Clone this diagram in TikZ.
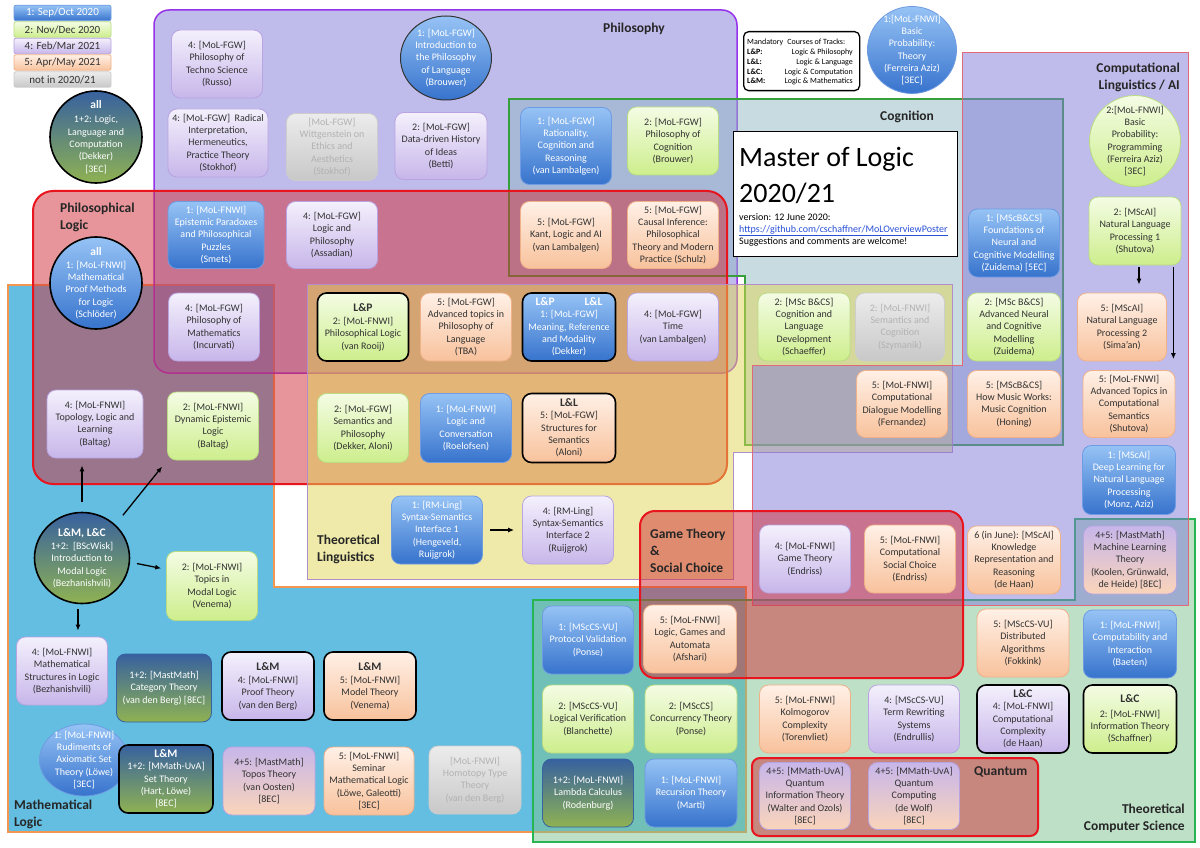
\documentclass[tikz,border=0pt]{standalone}
\usepackage{fontspec}
\setmainfont{Carlito}
\usepackage{xcolor}
\usepackage{tikz}
\usetikzlibrary{arrows.meta,shapes.geometric}

% period colours (top / bottom / border)
\definecolor{bluT}{RGB}{150,195,245}
\definecolor{bluB}{RGB}{55,115,205}
\definecolor{bluD}{RGB}{110,155,225}
\definecolor{grnT}{RGB}{244,252,228}
\definecolor{grnB}{RGB}{205,238,140}
\definecolor{grnD}{RGB}{185,220,130}
\definecolor{prpT}{RGB}{244,240,252}
\definecolor{prpB}{RGB}{199,182,234}
\definecolor{prpD}{RGB}{184,164,224}
\definecolor{orgT}{RGB}{255,240,230}
\definecolor{orgB}{RGB}{248,194,156}
\definecolor{orgD}{RGB}{240,176,136}
\definecolor{gryT}{RGB}{236,236,236}
\definecolor{gryB}{RGB}{200,200,200}
\definecolor{gryD}{RGB}{205,205,205}
\definecolor{gryX}{RGB}{178,178,178}
\definecolor{mixT}{RGB}{55,97,159}
\definecolor{mixB}{RGB}{143,178,82}
\definecolor{txtC}{RGB}{50,50,50}
% area colours
\definecolor{mlF}{RGB}{100,190,225}
\definecolor{mlD}{RGB}{243,150,80}
\definecolor{phF}{RGB}{129,121,217}
\definecolor{phD}{RGB}{150,50,235}
\definecolor{cgF}{RGB}{145,185,195}
\definecolor{cgD}{RGB}{55,160,60}
\definecolor{tlF}{RGB}{225,215,85}
\definecolor{tlD}{RGB}{180,140,200}
\definecolor{plF}{RGB}{209,45,55}
\definecolor{plD}{RGB}{232,20,30}
\definecolor{tcF}{RGB}{125,195,145}
\definecolor{tcD}{RGB}{40,180,80}
\definecolor{clD}{RGB}{224,106,120}
\definecolor{urlC}{RGB}{40,80,215}

\newcommand\crsfont{\fontsize{10}{12.3}\selectfont}
\newcommand\trkfont{\fontsize{11.5}{13}\selectfont\bfseries}
\newcommand\ttlfont{\fontsize{13.5}{17}\selectfont\bfseries}
\newcommand\lgdfont{\fontsize{11}{13}\selectfont}
\newcommand\mandfont{\fontsize{8}{9.7}\selectfont}

\tikzset{
  crs/.style={rounded corners=9pt, minimum width=91pt, minimum height=68pt,
    align=center, inner sep=1pt, font=\crsfont, text=txtC, line width=0.8pt},
  pone/.style={crs, top color=bluT, bottom color=bluB, draw=bluD, text=white},
  ptwo/.style={crs, top color=grnT, bottom color=grnB, draw=grnD},
  pfour/.style={crs, top color=prpT, bottom color=prpB, draw=prpD},
  pfive/.style={crs, top color=orgT, bottom color=orgB, draw=orgD},
  pnone/.style={crs, top color=gryT, bottom color=gryB, draw=gryD, text=gryX},
  ponetwo/.style={crs, top color=mixT, bottom color=mixB, draw=mixT, text=white},
  pfourfive/.style={crs, top color=prpB, bottom color=orgB!70, draw=prpD},
  trk/.style={draw=black, line width=1.6pt},
  rnd/.style={circle, inner sep=-14pt, minimum size=91pt},
  oval/.style={ellipse, inner sep=-14pt},
  lgd/.style={rounded corners=2pt, minimum width=97pt, minimum height=15.5pt,
    inner sep=0pt, font=\lgdfont},
  ttl/.style={font=\ttlfont, align=left, inner sep=0pt, text=black!85},
  mnd/.style={font=\mandfont, inner sep=0pt, text=black},
  arr/.style={-{Latex[length=6pt,width=5pt]}, line width=1.3pt, black},
}

\begin{document}
\begin{tikzpicture}[x=1pt,y=-1pt]
\fill[white] (0,0) rectangle (1200,848);
\useasboundingbox (0,0) rectangle (1200,848);

% areas
\path[fill=mlF, draw=mlD, line width=2pt] (8,285) -- (274,285) -- (274,587) --
  (746,587) -- (746,832) -- (8,832) -- cycle;
\path[fill=phF, fill opacity=0.5, draw=phD, line width=1.5pt, rounded corners=15pt]
  (154,10) rectangle (737,373);
\path[fill=cgF, fill opacity=0.5, draw=cgD, line width=1.5pt] (509,99) -- (1063,99) --
  (1063,445) -- (745,445) -- (745,276) -- (509,276) -- cycle;
\path[fill=plF, fill opacity=0.5, draw=plD, line width=2pt, rounded corners=20pt]
  (33,191) rectangle (727,484);
\path[fill=tlF, fill opacity=0.5, draw=tlD, line width=1pt] (307,284) -- (952,284) --
  (952,452) -- (733,452) -- (733,579) -- (307,579) -- cycle;
\path[fill=tcF, fill opacity=0.5, draw=tcD, line width=2pt] (533,600) -- (1075,600) --
  (1075,519) -- (1195,519) -- (1195,842) -- (533,842) -- cycle;
\path[fill=phF, fill opacity=0.5, draw=clD, line width=1pt] (962,53) -- (1188,53) --
  (1188,605) -- (752,605) -- (752,365) -- (962,365) -- cycle;
\path[fill=plF, fill opacity=0.5, draw=plD, line width=2pt, rounded corners=15pt]
  (640,511) rectangle (963,678);
\path[fill=plF, fill opacity=0.5, draw=plD, line width=2pt, rounded corners=8pt]
  (752,758) rectangle (1038,836);

% area titles
\node[ttl, anchor=west] (tphil) at (603,29) {Philosophy};
\node[ttl, anchor=west] (tplog) at (60,217) {Philosophical\\Logic};
\node[ttl, anchor=west] (tcog) at (880,117) {Cognition};
\node[ttl, anchor=east, align=right] (tcl) at (1180,77) {Computational\\Linguistics / AI};
\node[ttl, anchor=west] (ttl) at (317,549) {Theoretical\\Linguistics};
\node[ttl, anchor=west] (tgt) at (650,551) {Game Theory\\\&\\Social Choice};
\node[ttl, anchor=west] (tml) at (14,814) {Mathematical\\Logic};
\node[ttl, anchor=west] (tqu) at (974,772) {Quantum};
\node[ttl, anchor=east, align=right] (ttcs) at (1185,818) {Theoretical\\Computer Science};

% legend
\node[pone, lgd] (lgone) at (62.5,13) {1: Sep/Oct 2020};
\node[ptwo, lgd] (lgtwo) at (62.5,29.5) {2: Nov/Dec 2020};
\node[pfour, lgd] (lgfour) at (62.5,46) {4: Feb/Mar 2021};
\node[pfive, lgd] (lgfive) at (62.5,62.5) {5: Apr/May 2021};
\node[pnone, lgd, text=txtC] (lgnone) at (62.5,79.5) {not in 2020/21};

% mandatory tracks
\node[draw=black, line width=1.3pt, fill=white, rounded corners=5pt, minimum width=116pt,
  minimum height=59pt, inner sep=0pt, anchor=north west] (mand) at (743,31) {};
\node[mnd, anchor=base west] (mandt) at (747,45) {Mandatory\enspace Courses of Tracks:};
\foreach \tname/\tdesc [count=\i] in {L\&P/Logic \& Philosophy, L\&L/Logic \& Language,
    L\&C/Logic \& Computation, L\&M/Logic \& Mathematics}{
  \node[mnd, font=\mandfont\bfseries, anchor=base west] (mk\i) at (747,{45+9.7*\i}) {\tname:};
  \node[mnd, anchor=base east] (md\i) at (853,{45+9.7*\i}) {\tdesc};
}

% title box
\node[draw=black, line width=1.3pt, fill=white, minimum width=224pt, minimum height=125pt,
  inner sep=0pt, anchor=north west] (molbox) at (733,131) {};
\node[inner sep=0pt, anchor=base west, font=\fontsize{28}{34}\selectfont] (mola) at (739,167) {Master of Logic};
\node[inner sep=0pt, anchor=base west, font=\fontsize{28}{34}\selectfont] (molb) at (739,203) {2020/21};
\node[inner sep=0pt, anchor=base west, font=\crsfont] (molv) at (739,220) {version: 12 June 2020:};
\node[inner sep=0pt, anchor=base west, font=\crsfont, text=urlC] (molu) at (739,232)
  {\underline{https://github.com/cschaffner/MoLOverviewPoster}};
\node[inner sep=0pt, anchor=base west, font=\crsfont] (mols) at (739,244) {Suggestions and comments are welcome!};

% Philosophy
\node[pfour] (russo) at (217,64) {4: [MoL-FGW]\\Philosophy of\\Techno Science\\(Russo)};
\node[pone, oval, draw=black!80, line width=1pt, minimum width=91pt, minimum height=84pt] (lang) at (446,58)
  {1: [MoL-FGW]\\Introduction to\\the Philosophy\\of Language\\(Brouwer)};
\node[pfour, minimum width=100pt] (radical) at (218,143)
  {4: [MoL-FGW]\ \ Radical\\Interpretation,\\Hermeneutics,\\Practice Theory\\(Stokhof)};
\node[pnone, minimum height=67pt] (wittg) at (332,147) {[MoL-FGW]\\Wittgenstein on\\Ethics and\\Aesthetics\\(Stokhof)};
\node[pfour, minimum width=92pt, minimum height=67pt] (betti) at (441,146) {2: [MoL-FGW]\\Data-driven History\\of Ideas\\(Betti)};
\node[pone, minimum height=77pt] (ratio) at (566,146) {1: [MoL-FGW]\\Rationality,\\Cognition and\\Reasoning\\(van Lambalgen)};
\node[ptwo] (cogphil) at (673,141) {2: [MoL-FGW]\\Philosophy of\\Cognition\\(Brouwer)};
\node[pone, minimum width=96pt, minimum height=67pt] (epist) at (216,235)
  {1: [MoL-FNWI]\\Epistemic Paradoxes\\and Philosophical\\Puzzles\\(Smets)};
\node[pfour, minimum height=67pt] (assad) at (332,235) {4: [MoL-FGW]\\Logic and\\Philosophy\\(Assadian)};
\node[pfive, minimum height=67pt] (kant) at (566,235) {5: [MoL-FGW]\\Kant, Logic and AI\\(van Lambalgen)};
\node[pfive, minimum height=67pt] (causal) at (673,235)
  {5: [MoL-FGW]\\Causal Inference:\\Philosophical\\Theory and Modern\\Practice (Schulz)};
\node[pfour] (incurv) at (214,327) {4: [MoL-FGW]\\Philosophy of\\Mathematics\\(Incurvati)};
\node[ptwo, trk] (philog) at (363,327) {{\trkfont L\&P}\\[1pt]2: [MoL-FNWI]\\Philosophical Logic\\(van Rooij)};
\node[pfive] (advphil) at (466,327) {5: [MoL-FGW]\\Advanced topics in\\Philosophy of\\Language\\(TBA)};
\node[pone, trk, minimum width=93pt] (meaning) at (569,327)
  {{\trkfont L\&P\hspace{30pt}L\&L}\\1: [MoL-FGW]\\Meaning, Reference\\and Modality\\(Dekker)};
\node[pfour] (time) at (673,327) {4: [MoL-FGW]\\Time\\(van Lambalgen)};

% Philosophical Logic
\node[pone, rnd, trk, minimum size=92pt] (proofm) at (96,283)
  {{\trkfont all}\\[1pt]1: [MoL-FNWI]\\Mathematical\\Proof Methods\\for Logic\\(Schlöder)};
\node[ponetwo, rnd, trk, minimum size=92pt] (llc) at (96,137)
  {{\trkfont all}\\[2pt]1+2: Logic,\\Language and\\Computation\\(Dekker)\\{}[3EC]};
\node[pfour, minimum width=96pt] (topol) at (95,424) {4: [MoL-FNWI]\\Topology, Logic and\\Learning\\(Baltag)};
\node[ptwo] (del) at (213,426) {2: [MoL-FNWI]\\Dynamic Epistemic\\Logic\\(Baltag)};
\node[ptwo, minimum height=69pt] (sempil) at (363,428) {2: [MoL-FGW]\\Semantics and\\Philosophy\\(Dekker, Aloni)};
\node[pone, minimum height=69pt] (conv) at (466,428) {1: [MoL-FNWI]\\Logic and\\Conversation\\(Roelofsen)};
\node[pfive, trk, minimum width=93pt, minimum height=69pt] (struct) at (569,428)
  {{\trkfont L\&L}\\5: [MoL-FGW]\\Structures for\\Semantics\\(Aloni)};

% Theoretical Linguistics
\node[pone] (ssione) at (437,530) {1: [RM-Ling]\\Syntax-Semantics\\Interface 1\\(Hengeveld,\\Ruijgrok)};
\node[pfour] (ssitwo) at (568,530) {4: [RM-Ling]\\Syntax-Semantics\\Interface 2\\(Ruijgrok)};

% Mathematical Logic
\node[ponetwo, oval, trk, minimum width=95pt, minimum height=91pt] (modal) at (82,558)
  {{\trkfont L\&M, L\&C}\\[1pt]1+2:\ \ [BScWisk]\\Introduction to\\Modal Logic\\(Bezhanishvili)};
\node[ptwo, minimum height=69pt] (topics) at (212,586) {2: [MoL-FNWI]\\Topics in\\Modal Logic\\(Venema)};
\node[pfour] (mathstr) at (62,671) {4: [MoL-FNWI]\\Mathematical\\Structures in Logic\\(Bezhanishvili)};
\node[ponetwo, minimum width=95pt] (cat) at (164,688) {1+2: [MastMath]\\Category Theory\\(van den Berg) [8EC]};
\node[pfour, trk, minimum width=92pt] (prooft) at (268,686) {{\trkfont L\&M}\\[1pt]4: [MoL-FNWI]\\Proof Theory\\(van den Berg)};
\node[pfive, trk, minimum width=92pt] (model) at (370,686) {{\trkfont L\&M}\\[1pt]5: [MoL-FNWI]\\Model Theory\\(Venema)};
\node[pone, oval, draw=bluD, minimum width=89pt, minimum height=72pt] (rudim) at (84,760)
  {1: [MoL-FNWI]\\Rudiments of\\Axiomatic Set\\Theory (Löwe)\\{}[3EC]};
\node[ponetwo, trk, minimum width=94pt] (sett) at (166,779)
  {{\trkfont L\&M}\\1+2: [MMath-UvA]\\Set Theory\\(Hart, Löwe)\\{}[8EC]};
\node[pfourfive, minimum width=92pt] (topos) at (269,781) {4+5: [MastMath]\\Topos Theory\\(van Oosten)\\{}[8EC]};
\node[pfive, minimum width=90pt] (seminar) at (369,781)
  {5: [MoL-FNWI]\\Seminar\\Mathematical Logic\\(Löwe, Galeotti)\\{}[3EC]};
\node[pnone, minimum width=92pt] (homot) at (475,780) {[MoL-FNWI]\\Homotopy Type\\Theory\\(van den Berg)};

% Theoretical Computer Science
\node[pone] (protval) at (588,640) {1: [MScCS-VU]\\Protocol Validation\\(Ponse)};
\node[pfive, minimum width=93pt] (lga) at (690,639) {5: [MoL-FNWI]\\Logic, Games and\\Automata\\(Afshari)};
\node[ptwo] (logver) at (588,719) {2: [MScCS-VU]\\Logical Verification\\(Blanchette)};
\node[ptwo, minimum width=92pt] (conc) at (691,719) {2: [MScCS]\\Concurrency Theory\\(Ponse)};
\node[ponetwo] (lambda) at (588,793) {1+2: [MoL-FNWI]\\Lambda Calculus\\(Rodenburg)};
\node[pone, minimum width=92pt] (recur) at (691,793) {1: [MoL-FNWI]\\Recursion Theory\\(Marti)};
\node[pfour] (gamet) at (805,559) {4: [MoL-FNWI]\\Game Theory\\(Endriss)};
\node[pfive] (socch) at (910,559) {5: [MoL-FNWI]\\Computational\\Social Choice\\(Endriss)};
\node[pfive, minimum width=93pt] (knowr) at (1014,560)
  {6 (in June): [MScAI]\\Knowledge\\Representation and\\Reasoning\\(de Haan)};
\node[pfourfive, minimum width=93pt] (mlt) at (1130,560)
  {4+5: [MastMath]\\Machine Learning\\Theory\\(Koolen, Grünwald,\\de Heide) [8EC]};
\node[pfive, minimum width=92pt] (distal) at (1023,643) {5: [MScCS-VU]\\Distributed\\Algorithms\\(Fokkink)};
\node[pone, minimum width=93pt] (compint) at (1130,644) {1: [MoL-FNWI]\\Computability and\\Interaction\\(Baeten)};
\node[pfive] (kolm) at (805,719) {5: [MoL-FNWI]\\Kolmogorov\\Complexity\\(Torenvliet)};
\node[pfour] (termr) at (914,719) {4: [MScCS-VU]\\Term Rewriting\\Systems\\(Endrullis)};
\node[pfour, trk, minimum width=92pt] (compcx) at (1023,719)
  {{\trkfont L\&C}\\4: [MoL-FNWI]\\Computational\\Complexity\\(de Haan)};
\node[ptwo, trk, minimum width=93pt] (infth) at (1130,719)
  {{\trkfont L\&C}\\[2pt]2: [MoL-FNWI]\\Information Theory\\(Schaffner)};
\node[pfourfive, minimum height=67pt] (qit) at (805,796)
  {4+5: [MMath-UvA]\\Quantum\\Information Theory\\(Walter and Ozols)\\{}[8EC]};
\node[pfourfive, minimum height=67pt] (qcomp) at (914,796)
  {4+5: [MMath-UvA]\\Quantum\\Computing\\(de Wolf)\\{}[8EC]};

% Cognition
\node[pone, oval, draw=bluD, minimum width=89pt, minimum height=87pt] (bpt) at (912,50)
  {1:[MoL-FNWI]\\Basic\\Probability:\\Theory\\(Ferreira Aziz)\\{}[3EC]};
\node[pone] (fncm) at (1014,243) {1: [MScB\&CS]\\Foundations of\\Neural and\\Cognitive Modelling\\(Zuidema) [5EC]};
\node[ptwo, minimum width=92pt] (cld) at (804,327) {2: [MSc B\&CS]\\Cognition and\\Language\\Development\\(Schaeffer)};
\node[pnone, minimum width=89pt] (semcog) at (900,327) {2: [MoL-FNWI]\\Semantics and\\Cognition\\(Szymanik)};
\node[pfive, minimum height=67pt] (cdm) at (902,404) {5: [MoL-FNWI]\\Computational\\Dialogue Modelling\\(Fernandez)};
\node[ptwo, minimum width=93pt] (ancm) at (1014,327) {2: [MSc B\&CS]\\Advanced Neural\\and Cognitive\\Modelling\\(Zuidema)};
\node[pfive, minimum width=93pt, minimum height=67pt] (music) at (1014,404)
  {5: [MScB\&CS]\\How Music Works:\\Music Cognition\\(Honing)};

% Computational Linguistics / AI
\node[ptwo, rnd, minimum size=91pt] (bpp) at (1135,141)
  {2:[MoL-FNWI]\\Basic\\Probability:\\Programming\\(Ferreira Aziz)\\{}[3EC]};
\node[ptwo, minimum width=92pt] (nlpone) at (1135,231) {2: [MScAI]\\Natural Language\\Processing 1\\(Shutova)};
\node[pfive, minimum width=89pt] (nlptwo) at (1122,327) {5: [MScAI]\\Natural Language\\Processing 2\\(Sima’an)};
\node[pfive, minimum width=92pt, minimum height=67pt] (ats) at (1129,404)
  {5: [MoL-FNWI]\\Advanced Topics in\\Computational\\Semantics\\(Shutova)};
\node[pone, minimum width=93pt, minimum height=69pt] (dlnlp) at (1129,480)
  {1: [MScAI]\\Deep Learning for\\Natural Language\\Processing\\(Monz, Aziz)};

% prerequisites
\draw[arr, shorten <=10pt, shorten >=7pt] (modal.north) -- (modal.north |- topol.south);
\draw[arr, shorten <=12pt, shorten >=8pt] (modal.45) -- (del.south west);
\draw[arr, shorten <=7pt, shorten >=5pt] (modal.-5) -- (topics.160);
\draw[arr, shorten <=5pt, shorten >=6pt] (modal.265) -- (modal.265 |- mathstr.north);
\draw[arr, shorten <=7pt, shorten >=8pt] (ssione) -- (ssitwo);
\draw[arr, shorten <=2pt, shorten >=8pt] ([xshift=4pt]nlpone.south) -- ([xshift=4pt]nlpone.south |- nlptwo.north);
\draw[arr, shorten <=2pt, shorten >=11pt] ([xshift=-8pt]nlpone.south east) -- ([xshift=-8pt]nlpone.south east |- ats.north);
\end{tikzpicture}
\end{document}
